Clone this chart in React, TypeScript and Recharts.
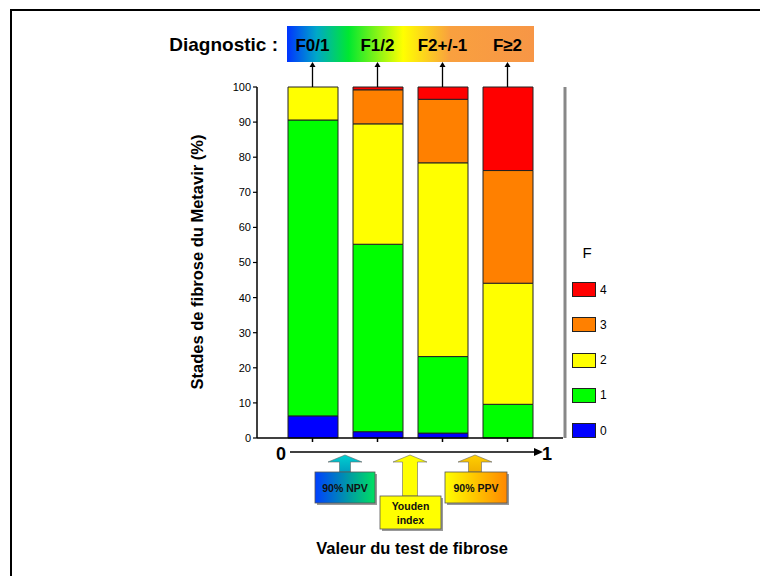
import React from 'react';
import { BarChart, Bar, XAxis, YAxis, Legend, Customized } from 'recharts';

// diagnostic classes (one bar per class) and Metavir stage shares in %
const diagnostics = ['F0/1', 'F1/2', 'F2+/-1', 'F≥2'];
const stageF0 = [6.3, 1.8, 1.4, 0];
const stageF1 = [84.3, 53.4, 21.8, 9.6];
const stageF2 = [9.4, 34.3, 55.2, 34.5];
const stageF3 = [0, 9.7, 18.1, 32.1];
const stageF4 = [0, 0.8, 3.5, 23.8];
const yTicks = [0, 10, 20, 30, 40, 50, 60, 70, 80, 90, 100];

const stages = [
  { key: 'f0', name: '0', color: '#0000ff' },
  { key: 'f1', name: '1', color: '#00ff00' },
  { key: 'f2', name: '2', color: '#ffff00' },
  { key: 'f3', name: '3', color: '#ff8000' },
  { key: 'f4', name: '4', color: '#ff0000' },
];

const data = diagnostics.map((d, i) => ({
  diag: d,
  f0: stageF0[i],
  f1: stageF1[i],
  f2: stageF2[i],
  f3: stageF3[i],
  f4: stageF4[i],
}));

const FONT = 'Arial, "Liberation Sans", sans-serif';

const TopTick = (props: any) => {
  const { x, payload } = props;
  return (
    <g>
      <line x1={x} y1={87} x2={x} y2={66} stroke="#000" strokeWidth={1.3} />
      <polygon points={`${x - 3},${67} ${x + 3},${67} ${x},${62}`} fill="#000" />
      <text x={x} y={51} textAnchor="middle" fontFamily={FONT} fontWeight="bold" fontSize={17} fill="#000">
        {payload.value}
      </text>
    </g>
  );
};

const BlockArrow = ({ cx, headW, shaftW, top, boxTop, box, fill, arrowFill, lines }: any) => {
  const headBase = top + 7;
  const pts = [
    [cx, top],
    [cx + headW / 2, headBase],
    [cx + shaftW / 2, headBase],
    [cx + shaftW / 2, boxTop],
    [cx - shaftW / 2, boxTop],
    [cx - shaftW / 2, headBase],
    [cx - headW / 2, headBase],
  ]
    .map((p) => p.join(','))
    .join(' ');
  return (
    <g>
      <rect x={box.x + 2} y={box.y + 2} width={box.w} height={box.h} fill="#999" />
      <polygon points={pts} fill={arrowFill} stroke="#666" strokeWidth={0.6} />
      <rect x={box.x} y={box.y} width={box.w} height={box.h} fill={fill} stroke="#555" strokeWidth={0.8} />
      {lines.map((t: string, i: number) => (
        <text
          key={t}
          x={box.x + box.w / 2}
          y={box.y + box.h / 2 + 4 + (i - (lines.length - 1) / 2) * 14}
          textAnchor="middle"
          fontFamily={FONT}
          fontWeight="bold"
          fontSize={10.5}
          fill="#111"
        >
          {t}
        </text>
      ))}
    </g>
  );
};

const Decor = () => (
  <g>
    <defs>
      <linearGradient id="diagGrad" x1="0" y1="0" x2="1" y2="0">
        <stop offset="0%" stopColor="#0033ff" />
        <stop offset="12%" stopColor="#00a8c8" />
        <stop offset="25%" stopColor="#00e830" />
        <stop offset="47%" stopColor="#ffff00" />
        <stop offset="66%" stopColor="#f9a03f" />
        <stop offset="100%" stopColor="#f79646" />
      </linearGradient>
      <linearGradient id="npvGrad" x1="0" y1="0" x2="1" y2="0">
        <stop offset="0%" stopColor="#0040ff" />
        <stop offset="100%" stopColor="#00e060" />
      </linearGradient>
      <linearGradient id="npvArrow" x1="0" y1="0" x2="0" y2="1">
        <stop offset="0%" stopColor="#00d0d0" />
        <stop offset="100%" stopColor="#00a0c0" />
      </linearGradient>
      <linearGradient id="ppvGrad" x1="0" y1="0" x2="1" y2="0">
        <stop offset="0%" stopColor="#ffff00" />
        <stop offset="100%" stopColor="#ff8800" />
      </linearGradient>
      <linearGradient id="ppvArrow" x1="0" y1="0" x2="0" y2="1">
        <stop offset="0%" stopColor="#ffd000" />
        <stop offset="100%" stopColor="#f0b000" />
      </linearGradient>
    </defs>

    {/* outer frame */}
    <line x1={10} y1={10} x2={760} y2={10} stroke="#000" strokeWidth={2} />
    <line x1={11} y1={9} x2={11} y2={576} stroke="#000" strokeWidth={2} />

    {/* right border of plot */}
    <line x1={565} y1={87} x2={565} y2={438} stroke="#888" strokeWidth={3} />

    {/* y axis title */}
    <text
      transform="translate(203,262) rotate(-90)"
      textAnchor="middle"
      fontFamily={FONT}
      fontWeight="bold"
      fontSize={16.5}
      fill="#000"
    >
      Stades de fibrose du Metavir (%)
    </text>

    {/* diagnostic banner */}
    <text x={278} y={51} textAnchor="end" fontFamily={FONT} fontWeight="bold" fontSize={19} fill="#000">
      Diagnostic :
    </text>
    <rect x={287} y={26} width={247} height={36} fill="url(#diagGrad)" />

    {/* test value axis */}
    <line x1={290} y1={452} x2={536} y2={452} stroke="#000" strokeWidth={1.5} />
    <polygon points="534,448 543,452 534,456" fill="#000" />
    <text x={281} y={460} textAnchor="middle" fontFamily={FONT} fontWeight="bold" fontSize={18} fill="#000">0</text>
    <text x={547} y={460} textAnchor="middle" fontFamily={FONT} fontWeight="bold" fontSize={18} fill="#000">1</text>

    <BlockArrow cx={345} headW={34} shaftW={11} top={455} boxTop={472}
      box={{ x: 315, y: 472, w: 60, h: 31 }} fill="url(#npvGrad)" arrowFill="url(#npvArrow)" lines={['90% NPV']} />
    <BlockArrow cx={410} headW={34} shaftW={15} top={455} boxTop={496}
      box={{ x: 380, y: 496, w: 61, h: 33 }} fill="#ffff00" arrowFill="#ffff00" lines={['Youden', 'index']} />
    <BlockArrow cx={475} headW={34} shaftW={13} top={455} boxTop={472}
      box={{ x: 445, y: 472, w: 62, h: 31 }} fill="url(#ppvGrad)" arrowFill="url(#ppvArrow)" lines={['90% PPV']} />

    <text x={412} y={554} textAnchor="middle" fontFamily={FONT} fontWeight="bold" fontSize={16.5} fill="#000">
      Valeur du test de fibrose
    </text>
  </g>
);

const StageLegend = (props: any) => {
  const items = [...(props.payload || [])].reverse();
  return (
    <div style={{ position: 'relative', width: 60, height: 210, fontFamily: FONT }}>
      <div style={{ position: 'absolute', left: 16, top: 4, width: 12, textAlign: 'center', fontSize: 15 }}>F</div>
      {items.map((it: any, i: number) => (
        <div key={it.value} style={{ position: 'absolute', left: 7, top: 42 + i * 35.3, display: 'flex', alignItems: 'center' }}>
          <div style={{ width: 22, height: 13, background: it.color, border: '1px solid #222' }} />
          <span style={{ fontSize: 12, marginLeft: 4 }}>{it.value}</span>
        </div>
      ))}
    </div>
  );
};

export default function App() {
  return (
    <div style={{ position: 'absolute', left: 0, top: 0, width: 760, height: 576, background: '#fff' }}>
      <BarChart
        width={760}
        height={576}
        data={data}
        margin={{ top: 62, right: 137, left: 227, bottom: 128 }}
        barSize={50}
      >
        <XAxis
          dataKey="diag"
          xAxisId="bottom"
          padding={{ left: 23, right: 23 }}
          height={10}
          tickSize={4}
          tickFormatter={() => ''}
          axisLine={{ stroke: '#000', strokeWidth: 1.5 }}
          tickLine={{ stroke: '#000', strokeWidth: 1.5 }}
        />
        <XAxis
          dataKey="diag"
          xAxisId="top"
          orientation="top"
          padding={{ left: 23, right: 23 }}
          height={25}
          axisLine={false}
          tickLine={false}
          tick={<TopTick />}
          interval={0}
        />
        <YAxis
          domain={[0, 100]}
          ticks={yTicks}
          interval={0}
          width={30}
          tickSize={4}
          tick={{ fontSize: 11, fill: '#000', fontFamily: FONT }}
          axisLine={{ stroke: '#000', strokeWidth: 1.5 }}
          tickLine={{ stroke: '#000', strokeWidth: 1.2 }}
        />
        <Legend
          layout="vertical"
          align="right"
          verticalAlign="top"
          content={<StageLegend />}
          wrapperStyle={{ position: 'absolute', left: 565, top: 240, width: 60, height: 210 }}
        />
        {stages.map((s) => (
          <Bar
            key={s.key}
            dataKey={s.key}
            name={s.name}
            stackId="a"
            xAxisId="bottom"
            fill={s.color}
            stroke="#222"
            strokeWidth={1}
            isAnimationActive={false}
          />
        ))}
        <Customized component={Decor} />
      </BarChart>
    </div>
  );
}
